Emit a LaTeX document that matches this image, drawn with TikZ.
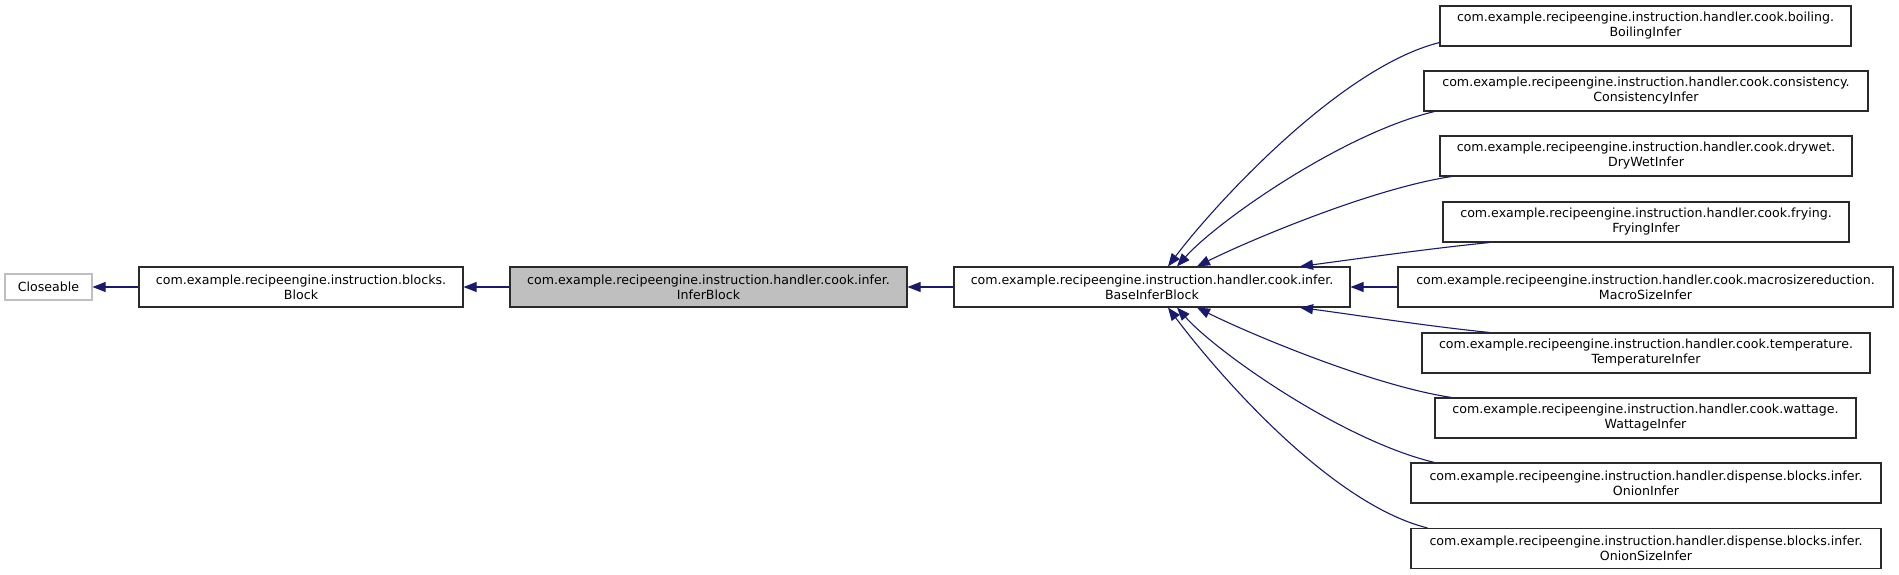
\documentclass[tikz,border=0pt]{standalone}
\usepackage{fontspec}
\setmainfont{DejaVu Sans}
\usetikzlibrary{arrows.meta}
\definecolor{edgeblue}{HTML}{191970}
\definecolor{boxgray}{HTML}{BFBFBF}
\definecolor{boxline}{HTML}{2A2A2A}
\tikzset{
  cls/.style={draw=boxline, line width=1.1pt, fill=white, minimum height=40pt, inner sep=0pt, align=center,
    font=\fontsize{12.6pt}{15pt}\selectfont},
  ext/.style={draw=boxgray, line width=1.1pt, fill=white, minimum height=26pt, inner sep=0pt, align=center,
    font=\fontsize{12.6pt}{15pt}\selectfont},
  cur/.style={cls, fill=boxgray},
  edge/.style={draw=edgeblue, line width=1.1pt, {Triangle[length=13pt,width=10pt]}-}
}
\begin{document}
\begin{tikzpicture}[x=1pt,y=-1pt]
\useasboundingbox[fill=white] (0,0) rectangle (1899,575);
% nodes
\node[ext, minimum width=87pt] (closeable) at (48.5,287) {Closeable};
\node[cls, minimum width=324pt] (block) at (301,287) {com.example.recipeengine.instruction.blocks.\\Block};
\node[cur, minimum width=397pt] (infer) at (708.5,287) {com.example.recipeengine.instruction.handler.cook.infer.\\InferBlock};
\node[cls, minimum width=396pt] (base) at (1152,287) {com.example.recipeengine.instruction.handler.cook.infer.\\BaseInferBlock};
\node[cls, minimum width=411pt] (boil) at (1645.5,26) {com.example.recipeengine.instruction.handler.cook.boiling.\\BoilingInfer};
\node[cls, minimum width=444pt] (cons) at (1646,91) {com.example.recipeengine.instruction.handler.cook.consistency.\\ConsistencyInfer};
\node[cls, minimum width=412pt] (dry) at (1646,156) {com.example.recipeengine.instruction.handler.cook.drywet.\\DryWetInfer};
\node[cls, minimum width=406pt] (fry) at (1646,222) {com.example.recipeengine.instruction.handler.cook.frying.\\FryingInfer};
\node[cls, minimum width=495pt] (macro) at (1645.5,287) {com.example.recipeengine.instruction.handler.cook.macrosizereduction.\\MacroSizeInfer};
\node[cls, minimum width=448pt] (temp) at (1646,353) {com.example.recipeengine.instruction.handler.cook.temperature.\\TemperatureInfer};
\node[cls, minimum width=421pt] (watt) at (1645.5,418) {com.example.recipeengine.instruction.handler.cook.wattage.\\WattageInfer};
\node[cls, minimum width=470pt] (onion) at (1646,483) {com.example.recipeengine.instruction.handler.dispense.blocks.infer.\\OnionInfer};
\node[cls, minimum width=470pt] (onionsize) at (1646,548.5) {com.example.recipeengine.instruction.handler.dispense.blocks.infer.\\OnionSizeInfer};
% edges
\draw[edge] (closeable.east) -- (block.west);
\draw[edge] (block.east) -- (infer.west);
\draw[edge] (infer.east) -- (base.west);
\draw[edge] ([xshift=16pt]base.north) .. controls +(45,-60) and +(-100,25) .. ([yshift=4pt]boil.south west);
\draw[edge] ([xshift=25pt]base.north) .. controls +(40,-45) and +(-92,22) .. ([xshift=11pt]cons.south west);
\draw[edge] ([xshift=45pt]base.north) .. controls +(50,-25) and +(-80,12) .. ([xshift=12pt]dry.south west);
\draw[edge] ([xshift=148pt]base.north) .. controls +(60,-8) and +(-60,6) .. ([xshift=47pt]fry.south west);
\draw[edge] (base.east) -- (macro.west);
\draw[edge] ([xshift=148pt]base.south) .. controls +(60,8) and +(-60,-6) .. ([xshift=68pt]temp.north west);
\draw[edge] ([xshift=45pt]base.south) .. controls +(50,25) and +(-80,-12) .. ([xshift=17pt]watt.north west);
\draw[edge] ([xshift=25pt]base.south) .. controls +(40,45) and +(-92,-22) .. ([xshift=24pt]onion.north west);
\draw[edge] ([xshift=16pt]base.south) .. controls +(45,60) and +(-100,-25) .. ([xshift=17pt]onionsize.north west);
\end{tikzpicture}
\end{document}
